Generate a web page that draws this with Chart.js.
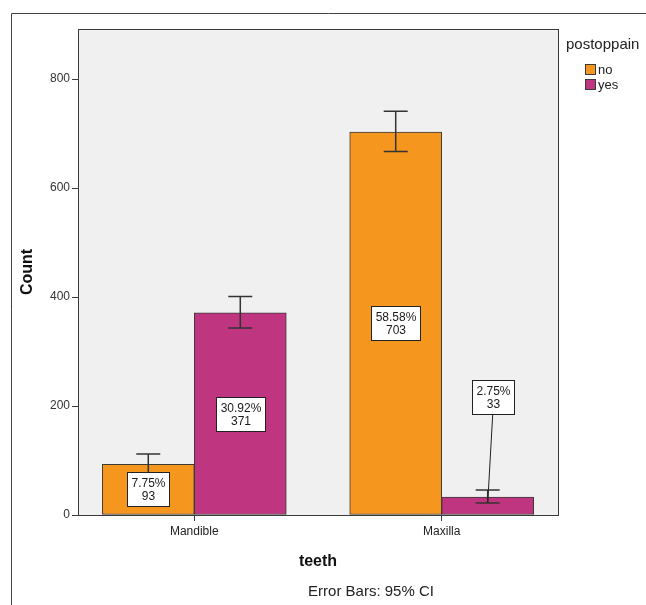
<!DOCTYPE html>
<html>
<head>
<meta charset="utf-8">
<script src="https://cdn.jsdelivr.net/npm/chart.js@4.4.1/dist/chart.umd.min.js"></script>
<style>
  html, body { margin: 0; padding: 0; background: #fff; }
  canvas { display: block; }
</style>
</head>
<body>
<canvas id="chart" width="646" height="605"></canvas>
<script>
// Post-operative pain by teeth group (counts with 95% CI)
const categories = ['Mandible', 'Maxilla'];
const seriesNames = ['no', 'yes'];
const noCounts = [93, 703];
const yesCounts = [371, 33];
const noCiLow = [76, 667];
const noCiHigh = [112, 741];
const yesCiLow = [343, 22];
const yesCiHigh = [401, 46];
const yTicks = [0, 200, 400, 600, 800];

const FONT = "'Liberation Sans', Arial, Helvetica, sans-serif";
const LINE = '#3a3a3a';
const colors = ['#F5961F', '#C0357F'];
const total = noCounts.concat(yesCounts).reduce((a, b) => a + b, 0);

const counts = [noCounts, yesCounts];
const ciLow = [noCiLow, yesCiLow];
const ciHigh = [noCiHigh, yesCiHigh];

const datasets = seriesNames.map((name, s) => ({
  label: name,
  data: categories.map((c, i) => ({ x: i, y: counts[s][i] })),
  backgroundColor: colors[s],
  borderColor: LINE,
  borderWidth: 1,
  borderSkipped: false,
  barThickness: 92
}));

// white page, outer frame and plot background
const backdrop = {
  id: 'backdrop',
  beforeDraw(chart) {
    const { ctx, chartArea: a, width, height } = chart;
    ctx.save();
    ctx.fillStyle = '#fff';
    ctx.fillRect(0, 0, width, height);
    ctx.strokeStyle = '#444';
    ctx.lineWidth = 1;
    ctx.beginPath();
    ctx.moveTo(width, 13.5);
    ctx.lineTo(11.5, 13.5);
    ctx.lineTo(11.5, height);
    ctx.stroke();
    ctx.fillStyle = '#F0F0F0';
    ctx.fillRect(a.left, a.top, a.right - a.left, a.bottom - a.top);
    ctx.restore();
  }
};

// plot frame, error bars and value boxes
const overlay = {
  id: 'overlay',
  afterDatasetsDraw(chart) {
    const { ctx, chartArea: a, scales: { y } } = chart;
    ctx.save();
    ctx.strokeStyle = LINE;
    ctx.lineWidth = 1;
    ctx.strokeRect(Math.round(a.left) + 0.5, Math.round(a.top) + 0.5,
      Math.round(a.right - a.left), Math.round(a.bottom - a.top));

    // error bars
    ctx.strokeStyle = '#333';
    ctx.lineWidth = 1.5;
    seriesNames.forEach((n, s) => {
      chart.getDatasetMeta(s).data.forEach((bar, i) => {
        const yHi = y.getPixelForValue(ciHigh[s][i]);
        const yLo = y.getPixelForValue(ciLow[s][i]);
        const x = bar.x;
        ctx.beginPath();
        ctx.moveTo(x, yHi); ctx.lineTo(x, yLo);
        ctx.moveTo(x - 12, yHi); ctx.lineTo(x + 12, yHi);
        ctx.moveTo(x - 12, yLo); ctx.lineTo(x + 12, yLo);
        ctx.stroke();
      });
    });

    // value boxes
    ctx.font = '12px ' + FONT;
    ctx.textAlign = 'center';
    ctx.textBaseline = 'middle';
    const lh = 13, pad = 4;
    seriesNames.forEach((n, s) => {
      chart.getDatasetMeta(s).data.forEach((bar, i) => {
        const v = counts[s][i];
        const lines = [(v / total * 100).toFixed(2) + '%', String(v)];
        const w = Math.max(...lines.map(t => ctx.measureText(t).width)) + pad * 2;
        const h = lines.length * lh + pad * 2;
        const barH = bar.base - bar.y;
        let cx = bar.x, cy = (bar.y + bar.base) / 2;
        const callout = barH < h + 4;
        if (callout) {
          cx = bar.x + 5;
          cy = bar.base - 118;
        }
        const bx = Math.round(cx - w / 2) + 0.5, by = Math.round(cy - h / 2) + 0.5;
        if (callout) {
          ctx.strokeStyle = '#222';
          ctx.lineWidth = 1;
          ctx.beginPath();
          ctx.moveTo(cx, by + h);
          ctx.lineTo(bar.x, y.getPixelForValue(ciLow[s][i]));
          ctx.stroke();
        }
        ctx.fillStyle = '#fff';
        ctx.fillRect(bx, by, Math.round(w), h);
        ctx.strokeStyle = '#222';
        ctx.lineWidth = 1;
        ctx.strokeRect(bx, by, Math.round(w), h);
        ctx.fillStyle = '#1a1a1a';
        lines.forEach((t, k) => {
          ctx.fillText(t, bx + Math.round(w) / 2, by + pad + lh * k + lh / 2 + 0.5);
        });
      });
    });
    ctx.restore();
  },
  afterDraw(chart) {
    const { ctx } = chart;
    ctx.save();
    // legend
    ctx.fillStyle = '#222';
    ctx.textAlign = 'left';
    ctx.textBaseline = 'middle';
    ctx.font = '15px ' + FONT;
    ctx.fillText('postoppain', 566, 45);
    ctx.font = '13px ' + FONT;
    seriesNames.forEach((name, s) => {
      const ty = 64 + s * 15;
      ctx.fillStyle = colors[s];
      ctx.fillRect(585.5, ty + 0.5, 10, 10);
      ctx.strokeStyle = LINE;
      ctx.lineWidth = 1;
      ctx.strokeRect(585.5, ty + 0.5, 10, 10);
      ctx.fillStyle = '#222';
      ctx.fillText(name, 598, ty + 6);
    });
    // footnote
    ctx.font = '15px ' + FONT;
    ctx.textAlign = 'center';
    ctx.fillStyle = '#222';
    ctx.fillText('Error Bars: 95% CI', 371, 592);
    ctx.restore();
  }
};

new Chart(document.getElementById('chart'), {
  type: 'bar',
  data: { datasets },
  plugins: [backdrop, overlay],
  options: {
    responsive: false,
    animation: false,
    devicePixelRatio: 1,
    layout: { padding: { left: 0, top: 29, right: 88, bottom: 0 } },
    plugins: { legend: { display: false }, tooltip: { enabled: false } },
    scales: {
      x: {
        type: 'linear',
        min: -0.47,
        max: 1.47,
        offset: false,
        afterBuildTicks: s => { s.ticks = categories.map((c, i) => ({ value: i })); },
        afterFit: s => { s.height = 90; },
        ticks: {
          autoSkip: false,
          maxRotation: 0,
          padding: 3,
          color: '#222',
          font: { family: FONT, size: 12 },
          callback: (v, i) => categories[i]
        },
        grid: { display: true, offset: false, drawOnChartArea: false, drawTicks: true, tickLength: 6, color: LINE },
        border: { display: false },
        title: {
          display: true,
          text: 'teeth',
          color: '#111',
          font: { family: FONT, size: 16, weight: 'bold' },
          padding: { top: 0, bottom: 34 }
        }
      },
      y: {
        min: 0,
        max: 892,
        afterBuildTicks: s => { s.ticks = yTicks.map(v => ({ value: v })); },
        afterFit: s => { s.width = 78; },
        ticks: {
          padding: 2,
          color: '#333',
          font: { family: FONT, size: 12 }
        },
        grid: { display: true, drawOnChartArea: false, drawTicks: true, tickLength: 6, color: LINE },
        border: { display: false },
        title: {
          display: true,
          text: 'Count',
          color: '#111',
          font: { family: FONT, size: 16, weight: 'bold' },
          padding: { top: 18, bottom: 0 }
        }
      }
    }
  }
});
</script>
</body>
</html>
